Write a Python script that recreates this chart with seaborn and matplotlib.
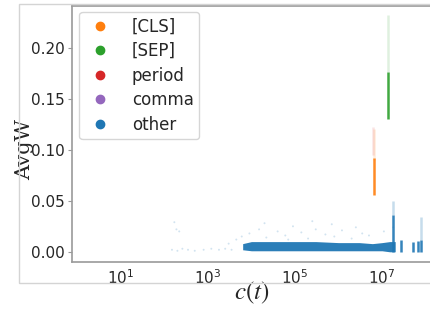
import numpy as np
import pandas as pd
import matplotlib.pyplot as plt
import seaborn as sns
from matplotlib.lines import Line2D
from matplotlib.patches import Rectangle

# token categories and colours
labels = ["[CLS]", "[SEP]", "period", "comma", "other"]
colors = ["#ff7f0e", "#2ca02c", "#d62728", "#9467bd", "#1f77b4"]

# dense band of "other" tokens: count c(t) vs AvgW range
band_c = [6.3e3, 1.0e4, 3.0e4, 1.0e5, 3.0e5, 1.0e6, 3.0e6, 6.0e6, 1.0e7, 1.5e7, 2.0e7]
band_low = [0.002, 0.001, 0.001, 0.001, 0.001, 0.001, 0.001, 0.001, 0.001, 0.000, 0.000]
band_high = [0.008, 0.010, 0.010, 0.010, 0.010, 0.009, 0.009, 0.008, 0.009, 0.010, 0.010]

# vertical streaks (count, low, high, category, opacity)
streak_c = [6.6e6, 6.6e6, 6.3e6, 1.35e7, 1.35e7, 1.78e7, 1.78e7, 2.65e7, 5.2e7, 6.6e7, 7.8e7, 7.8e7]
streak_low = [0.056, 0.090, 0.095, 0.130, 0.176, 0.000, 0.036, 0.000, 0.000, 0.000, 0.000, 0.012]
streak_high = [0.092, 0.120, 0.122, 0.176, 0.232, 0.036, 0.050, 0.012, 0.010, 0.011, 0.012, 0.034]
streak_cat = ["[CLS]", "[CLS]", "period", "[SEP]", "[SEP]", "other", "other",
              "other", "other", "other", "other", "other"]
streak_alpha = [0.9, 0.15, 0.12, 0.9, 0.15, 0.9, 0.25, 0.9, 0.9, 0.9, 0.9, 0.25]

# sparse scattered "other" points
sparse_c = [1.5e2, 2.0e2, 2.6e2, 3.5e2, 5.0e2, 8.0e2, 1.2e3, 1.8e3, 2.5e3, 3.5e3,
            4.5e3, 6.0e3, 9.0e3, 1.5e4, 2.2e4, 4.0e4, 6.0e4, 9.0e4, 1.4e5, 2.0e5,
            3.0e5, 5.0e5, 8.0e5, 1.2e6, 2.0e6, 3.5e6, 5.0e6, 1.1e7, 1.8e7,
            1.7e2, 1.9e2, 2.2e2, 3.0e3, 2.0e4, 7.0e4, 2.5e5, 7.0e5, 2.5e6]
sparse_w = [0.002, 0.001, 0.003, 0.002, 0.001, 0.002, 0.003, 0.002, 0.003, 0.002,
            0.012, 0.015, 0.018, 0.022, 0.014, 0.020, 0.016, 0.025, 0.019, 0.013,
            0.022, 0.017, 0.015, 0.021, 0.013, 0.018, 0.016, 0.020, 0.024,
            0.029, 0.022, 0.020, 0.008, 0.028, 0.012, 0.030, 0.027, 0.024]

sns.set_style("white")
plt.rcParams["font.family"] = ["DejaVu Sans"]

fig = plt.figure(figsize=(4.30, 3.09), dpi=100)
fig.patches.append(Rectangle((19 / 430, 26 / 309), 1.0, 279 / 309, transform=fig.transFigure,
                             fill=False, edgecolor="#d4d4d4", linewidth=1.0))
ax = fig.add_axes([72 / 430, 47 / 309, 360 / 430, 256 / 309])

palette = dict(zip(labels, colors))

sparse = pd.DataFrame({"c": sparse_c, "w": sparse_w, "label": "other"})
sns.scatterplot(data=sparse, x="c", y="w", color=palette["other"], s=2, alpha=0.2,
                edgecolor="none", ax=ax, legend=False)

ax.fill_between(band_c, band_low, band_high, color=palette["other"], linewidth=0, alpha=0.95)

for c, lo, hi, cat, a in zip(streak_c, streak_low, streak_high, streak_cat, streak_alpha):
    ax.vlines(c, lo, hi, color=palette[cat], alpha=a, linewidth=1.8)

ax.set_xscale("log")
ax.set_xlim(0.76, 1.4e8)
ax.set_ylim(-0.01, 0.241)
ax.set_xticks([1e1, 1e3, 1e5, 1e7])
ax.xaxis.set_minor_locator(plt.NullLocator())
ax.set_yticks([0.0, 0.05, 0.10, 0.15, 0.20])
ax.set_yticklabels(["0.00", "0.05", "0.10", "0.15", "0.20"])
ax.tick_params(axis="y", left=True, length=3, color="#999999", labelsize=11, pad=2)
ax.tick_params(axis="x", bottom=False, labelsize=11, pad=1)

for side in ["left", "bottom", "top", "right"]:
    ax.spines[side].set_color("#9a9a9a")
    ax.spines[side].set_linewidth(1.2)

ax.set_ylabel("AvgW", family="DejaVu Serif", fontsize=15)
ax.yaxis.set_label_coords(-0.132, 0.44)
ax.set_xlabel("$c(t)$", fontsize=18, math_fontfamily="stix")
ax.xaxis.set_label_coords(0.5, -0.12)
ax.xaxis.label.set_verticalalignment("center")
ax.yaxis.label.set_verticalalignment("center")

handles = [Line2D([], [], marker="o", linestyle="none", color=col, markersize=6)
           for col in colors]
ax.legend(handles, labels, loc="upper left", fontsize=12, labelspacing=0.39,
          handlelength=1.8, handletextpad=1.0, borderpad=0.35, frameon=True,
          edgecolor="#cccccc", bbox_to_anchor=(-0.003, 1.01))

fig.savefig("out.png", dpi=100)
